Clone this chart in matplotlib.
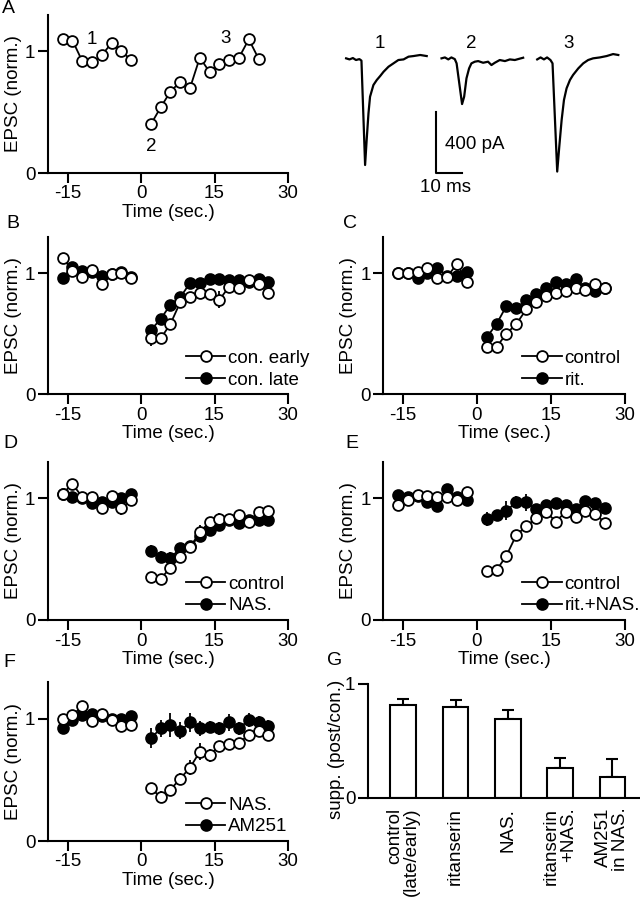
import numpy as np
import matplotlib
matplotlib.use("Agg")
import matplotlib.pyplot as plt
from matplotlib.lines import Line2D

plt.rcParams['font.family'] = ['Liberation Sans', 'DejaVu Sans']
plt.rcParams['font.size'] = 13.5
plt.rcParams['axes.unicode_minus'] = False

# time points (s): 8 before, 13 after the conditioning
t_pre = [-16, -14, -12, -10, -8, -6, -4, -2]
t_post = [2, 4, 6, 8, 10, 12, 14, 16, 18, 20, 22, 24, 26]

# panel A, single cell
A_pre = [1.10, 1.09, 0.92, 0.91, 0.97, 1.07, 1.00, 0.93]
A_post = [0.40, 0.54, 0.67, 0.75, 0.70, 0.95, 0.83, 0.90, 0.93, 0.95, 1.10, 0.94]

# panel B
B_early = [1.13, 1.02, 0.97, 1.03, 0.91, 0.99, 1.00, 0.96,
           0.46, 0.46, 0.58, 0.76, 0.80, 0.84, 0.83, 0.78, 0.89, 0.88, 0.94, 0.91, 0.84]
B_early_err = [0.03, 0.03, 0.02, 0.03, 0.04, 0.03, 0.02, 0.04,
               0.06, 0.04, 0.04, 0.03, 0.03, 0.03, 0.04, 0.07, 0.03, 0.03, 0.02, 0.03, 0.03]
B_late = [0.96, 1.05, 1.02, 1.01, 0.98, 0.99, 1.01, 0.97,
          0.53, 0.62, 0.74, 0.80, 0.92, 0.92, 0.95, 0.95, 0.94, 0.94, 0.93, 0.95, 0.93]
B_late_err = [0.02, 0.02, 0.02, 0.02, 0.03, 0.02, 0.02, 0.02,
              0.03, 0.03, 0.03, 0.03, 0.03, 0.03, 0.03, 0.03, 0.02, 0.02, 0.02, 0.02, 0.02]

# panel C
C_control = [1.00, 1.00, 1.01, 1.04, 0.96, 0.97, 1.08, 0.93,
             0.39, 0.39, 0.50, 0.58, 0.70, 0.76, 0.81, 0.84, 0.85, 0.88, 0.86, 0.91, 0.88]
C_control_err = [0.02, 0.02, 0.02, 0.02, 0.02, 0.02, 0.03, 0.03,
                 0.05, 0.04, 0.03, 0.03, 0.03, 0.03, 0.03, 0.02, 0.02, 0.02, 0.02, 0.02, 0.02]
C_rit = [1.00, 1.00, 0.96, 1.00, 1.04, 0.98, 0.98, 1.01,
         0.47, 0.58, 0.73, 0.71, 0.78, 0.83, 0.88, 0.93, 0.91, 0.95, 0.88, 0.85, 0.88]
C_rit_err = [0.02, 0.02, 0.02, 0.02, 0.02, 0.02, 0.02, 0.02,
             0.03, 0.03, 0.03, 0.04, 0.03, 0.03, 0.02, 0.02, 0.02, 0.02, 0.02, 0.02, 0.02]

# panel D
D_control = [1.04, 1.12, 1.01, 1.01, 0.92, 1.02, 0.92, 0.99,
             0.35, 0.34, 0.43, 0.52, 0.60, 0.72, 0.81, 0.83, 0.83, 0.86, 0.81, 0.89, 0.90]
D_control_err = [0.03, 0.03, 0.02, 0.03, 0.03, 0.04, 0.06, 0.03,
                 0.03, 0.03, 0.04, 0.03, 0.03, 0.06, 0.04, 0.05, 0.03, 0.03, 0.03, 0.03, 0.03]
D_nas = [1.04, 1.01, 1.00, 0.96, 0.97, 0.97, 1.00, 1.04,
         0.57, 0.52, 0.51, 0.59, 0.61, 0.69, 0.74, 0.78, 0.82, 0.80, 0.82, 0.82, 0.82]
D_nas_err = [0.02, 0.03, 0.02, 0.04, 0.03, 0.05, 0.03, 0.03,
             0.05, 0.05, 0.05, 0.04, 0.04, 0.04, 0.05, 0.04, 0.03, 0.03, 0.03, 0.03, 0.03]

# panel E
E_control = [0.95, 0.99, 1.03, 1.02, 1.01, 1.01, 0.99, 1.05,
             0.40, 0.41, 0.53, 0.70, 0.77, 0.84, 0.89, 0.81, 0.89, 0.85, 0.90, 0.87, 0.80]
E_control_err = [0.02, 0.02, 0.02, 0.02, 0.02, 0.02, 0.02, 0.02,
                 0.03, 0.03, 0.03, 0.03, 0.03, 0.03, 0.03, 0.03, 0.03, 0.03, 0.03, 0.03, 0.03]
E_ritnas = [1.03, 1.01, 1.02, 0.97, 0.94, 1.08, 1.01, 0.99,
            0.83, 0.86, 0.90, 0.97, 0.97, 0.91, 0.95, 0.96, 0.95, 0.91, 0.98, 0.96, 0.92]
E_ritnas_err = [0.02, 0.02, 0.02, 0.04, 0.05, 0.03, 0.03, 0.03,
                0.06, 0.04, 0.08, 0.05, 0.07, 0.04, 0.04, 0.04, 0.04, 0.04, 0.03, 0.03, 0.03]

# panel F
F_nas = [1.00, 1.03, 1.10, 0.98, 1.04, 0.99, 0.94, 0.95,
         0.43, 0.36, 0.42, 0.51, 0.60, 0.73, 0.70, 0.78, 0.79, 0.80, 0.87, 0.90, 0.87]
F_nas_err = [0.03, 0.03, 0.03, 0.03, 0.03, 0.03, 0.03, 0.03,
             0.04, 0.05, 0.04, 0.05, 0.06, 0.07, 0.05, 0.04, 0.04, 0.03, 0.03, 0.03, 0.04]
F_am = [0.92, 0.99, 1.03, 1.04, 1.02, 1.00, 1.00, 1.02,
        0.84, 0.92, 0.95, 0.90, 0.97, 0.92, 0.93, 0.92, 0.97, 0.92, 0.99, 0.97, 0.94]
F_am_err = [0.03, 0.03, 0.03, 0.03, 0.03, 0.03, 0.03, 0.03,
            0.08, 0.07, 0.10, 0.07, 0.08, 0.06, 0.05, 0.05, 0.07, 0.05, 0.06, 0.05, 0.05]

# panel G, suppression summary
G_labels = ["control\n(late/early)", "ritanserin", "NAS.", "ritanserin\n+NAS.", "AM251\nin NAS."]
G_vals = [0.82, 0.80, 0.69, 0.26, 0.18]
G_err = [0.045, 0.06, 0.08, 0.095, 0.16]

# example traces (ms from trace start, pA)
tr1_ms = [0, 1.3, 2.6, 3.8, 5.1, 5.9, 7.3, 7.9, 8.6, 9.2, 10.5, 11.8, 13.1, 14.4, 16.3, 18.2,
          20.1, 22.1, 24.0, 25.9, 28.5, 31.0]
tr1_pA = [-2, -9, 0, -13, -7, -17, -702, -538, -363, -254, -177, -144, -118, -90, -57, -35,
          -13, -9, 9, 13, 20, 13]
tr2_ms = [0, 1.3, 2.6, 3.8, 5.1, 5.8, 7.9, 8.7, 9.6, 10.6, 11.5, 12.8, 14.1, 16.0, 17.9, 19.2,
          20.5, 22.4, 24.4, 26.3, 28.2, 30.1, 31.4]
tr2_pA = [-2, 4, -9, 4, -7, -35, -302, -254, -133, -68, -35, -24, -20, -31, -24, -46,
          -31, -13, -20, -9, -13, -4, 2]
tr3_ms = [0, 1.3, 2.6, 3.8, 5.1, 5.9, 7.7, 8.5, 9.4, 10.3, 11.3, 12.6, 13.8, 15.8, 17.7, 19.6,
          21.5, 24.1, 26.7, 29.2, 31.2]
tr3_pA = [-9, 4, -9, 4, -13, -35, -745, -581, -407, -275, -199, -144, -111, -68, -35, -13,
          -2, 4, 13, 26, 20]
tr_start = [6.2, 42.9, 79.7]

W, H = 640, 900
fig = plt.figure(figsize=(6.4, 9), dpi=100)


def px_axes(left, top, right, bottom):
    return fig.add_axes([left / W, 1 - bottom / H, (right - left) / W, (bottom - top) / H])


def style(ax):
    for s in ['top', 'right']:
        ax.spines[s].set_visible(False)
    for s in ['left', 'bottom']:
        ax.spines[s].set_linewidth(1.5)
    ax.tick_params(direction='out', length=7, width=1.5, pad=2)


def time_axes(ax, letter_xy, letter):
    style(ax)
    ax.set_xlim(-19, 30)
    ax.set_ylim(0, 1.3)
    ax.set_xticks([-15, 0, 15, 30])
    ax.set_yticks([0, 1])
    ax.set_xlabel("Time (sec.)", labelpad=1)
    ax.set_ylabel("EPSC (norm.)", labelpad=2)
    fig.text(letter_xy[0] / W, 1 - letter_xy[1] / H, letter, fontsize=14, va='top', ha='left')


mk = dict(marker='o', ms=7.8, mec='black', mew=1.3, color='black', lw=1.3)


def series(ax, y, err, fc):
    y = np.asarray(y)
    err = np.asarray(err)
    ax.errorbar(t_pre, y[:8], yerr=err[:8], mfc=fc, elinewidth=1.3, capsize=0, **mk)
    ax.errorbar(t_post, y[8:], yerr=err[8:], mfc=fc, elinewidth=1.3, capsize=0, **mk)


def time_panel(ax, open_y, open_err, fill_y, fill_err, labels, letter_xy, letter):
    time_axes(ax, letter_xy, letter)
    series(ax, fill_y, fill_err, 'black')
    series(ax, open_y, open_err, 'white')
    handles = [Line2D([], [], mfc='white', **mk), Line2D([], [], mfc='black', **mk)]
    ax.legend(handles, labels, loc='lower left', bbox_to_anchor=(0.575, 0.035),
              frameon=False, borderpad=0, borderaxespad=0, handlelength=2.1,
              handletextpad=0.15, labelspacing=0.25)


# A
axA = px_axes(48, 15, 288, 173)
time_axes(axA, (2, 0), "A")
axA.plot(t_pre, A_pre, mfc='white', **mk)
axA.plot(t_post[:len(A_post)], A_post, mfc='white', **mk)
axA.text(-10, 1.10, "1", ha='center', va='center')
axA.text(2.1, 0.215, "2", ha='center', va='center')
axA.text(17.2, 1.107, "3", ha='center', va='center')

# traces
axT = px_axes(330, 30, 630, 190)
axT.set_xlim(0, 115.4)
axT.set_ylim(-866, 184)
axT.axis('off')
for st, ms_, pa in zip(tr_start, [tr1_ms, tr2_ms, tr3_ms], [tr1_pA, tr2_pA, tr3_pA]):
    axT.plot(np.asarray(ms_) + st, pa, color='black', lw=1.6)
axT.text(19.2, 98, "1", ha='center', va='center')
axT.text(54.5, 98, "2", ha='center', va='center')
axT.text(91.7, 98, "3", ha='center', va='center')
axT.plot([40.8, 40.8, 50.8], [-354, -754, -754], color='black', lw=1.5)
axT.text(44.2, -570, "400 pA", ha='left', va='center')
axT.text(44.6, -852, "10 ms", ha='center', va='center')

# B-F
time_panel(px_axes(48, 237, 288, 394), B_early, B_early_err, B_late, B_late_err,
           ["con. early", "con. late"], (6, 215), "B")
time_panel(px_axes(383, 237, 625, 394), C_control, C_control_err, C_rit, C_rit_err,
           ["control", "rit."], (343, 215), "C")
time_panel(px_axes(48, 462, 288, 620), D_control, D_control_err, D_nas, D_nas_err,
           ["control", "NAS."], (3, 435), "D")
time_panel(px_axes(383, 462, 625, 620), E_control, E_control_err, E_ritnas, E_ritnas_err,
           ["control", "rit.+NAS."], (345, 435), "E")
time_panel(px_axes(48, 682, 288, 841), F_nas, F_nas_err, F_am, F_am_err,
           ["NAS.", "AM251"], (3, 654), "F")

# G
axG = px_axes(368, 684, 640, 798)
style(axG)
xg = np.arange(len(G_vals))
axG.bar(xg, G_vals, width=0.49, color='white', edgecolor='black', linewidth=1.5, zorder=2)
axG.errorbar(xg, G_vals, yerr=[np.zeros(len(G_err)), G_err], fmt='none', ecolor='black',
             elinewidth=1.5, capsize=4, capthick=1.5, zorder=1)
axG.set_xlim(-0.675, 4.53)
axG.set_ylim(0, 1)
axG.set_yticks([0, 1])
axG.set_xticks(xg)
axG.set_xticklabels(G_labels, rotation=90, ha='center', va='top', linespacing=1.0,
                    multialignment='right')
axG.tick_params(axis='x', length=0, pad=7)
axG.set_ylabel("supp. (post/con.)", labelpad=1)
axG.yaxis.set_label_coords(-0.085, 0.43)
fig.text(327 / W, 1 - 652 / H, "G", fontsize=14, va='top', ha='left')

fig.savefig("out.png", dpi=100)
